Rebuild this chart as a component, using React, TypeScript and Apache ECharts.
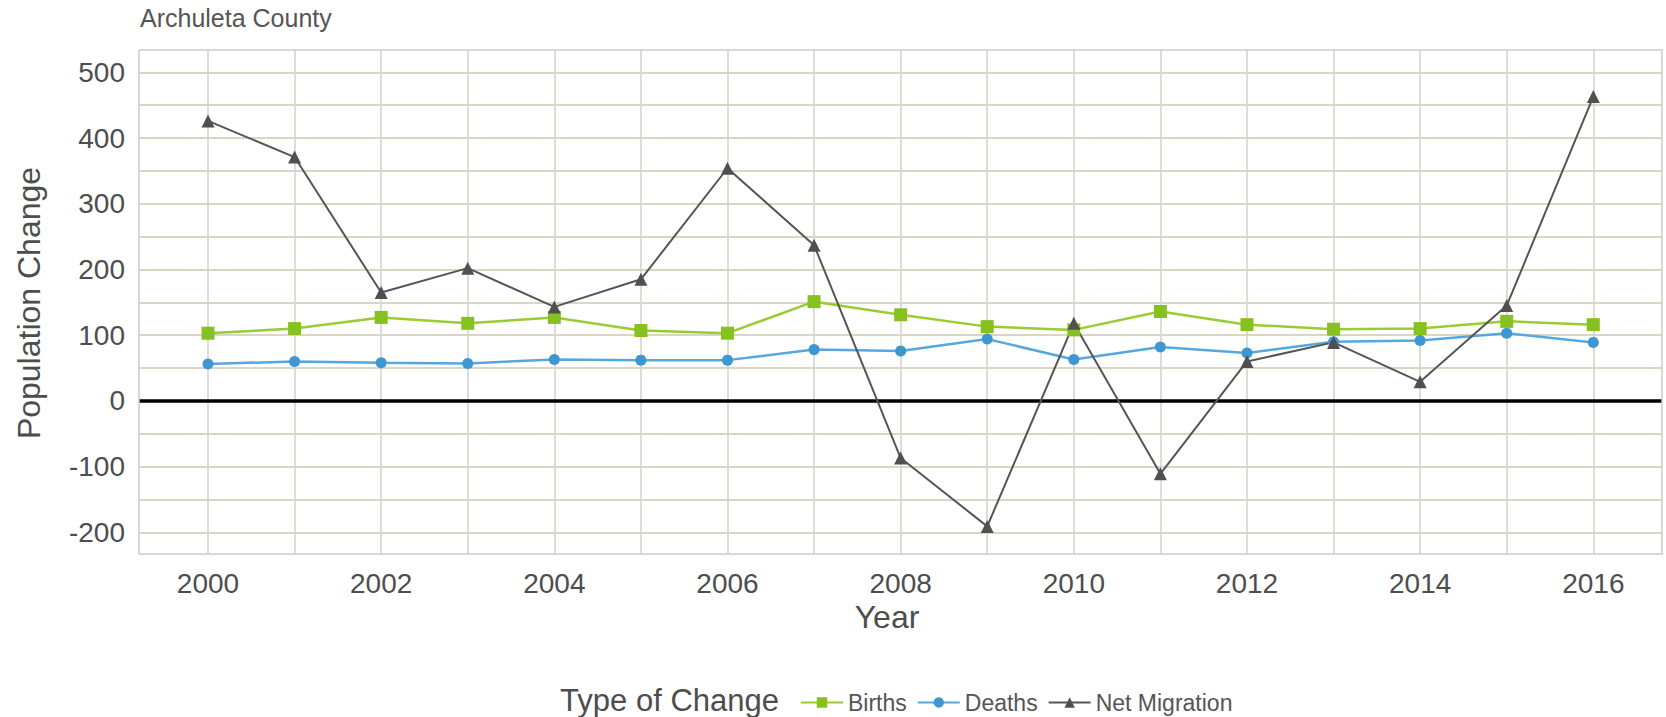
import React, { useEffect, useRef } from "react";
import * as echarts from "echarts";

const years = [2000, 2001, 2002, 2003, 2004, 2005, 2006, 2007, 2008, 2009, 2010, 2011, 2012, 2013, 2014, 2015, 2016];
const births = [103, 110, 127, 118, 127, 107, 103, 151, 131, 113, 108, 136, 116, 109, 110, 121, 116];
const deaths = [56, 60, 58, 57, 63, 62, 62, 78, 76, 94, 63, 82, 73, 90, 92, 103, 89];
const netMigration = [426, 371, 165, 202, 143, 185, 354, 237, -87, -191, 118, -111, 60, 89, 29, 145, 463];
const yTicks = [-200, -100, 0, 100, 200, 300, 400, 500];
const xTickLabels = [2000, 2002, 2004, 2006, 2008, 2010, 2012, 2014, 2016];

const FONT = "'Liberation Sans', Arial, Helvetica, sans-serif";

export default function App() {
  const ref = useRef<HTMLDivElement>(null);
  useEffect(() => {
    if (!ref.current) return;
    const chart = echarts.init(ref.current, undefined, { renderer: "svg" });

    // panel geometry
    const panelL = 139, panelR = 1662, panelT = 50, panelB = 554;
    const x2000 = 208, x2016 = 1593.3;
    const pxPerYear = (x2016 - x2000) / 16;
    const y500 = 72.3, yM200 = 532.3;
    const xMin = 2000 - (x2000 - panelL) / pxPerYear;
    const xMax = 2016 + (panelR - x2016) / pxPerYear;

    const toPairs = (arr: number[]) => arr.map((v, i) => [years[i], v]);

    const option: any = {
      animation: false,
      backgroundColor: "#ffffff",
      textStyle: { fontFamily: FONT },
      grid: [
        { left: panelL, top: y500, width: panelR - panelL, height: yM200 - y500, containLabel: false },
        { left: x2000, top: panelT, width: x2016 - x2000, height: panelB - panelT, containLabel: false },
      ],
      xAxis: [
        {
          gridIndex: 0, type: "value", min: xMin, max: xMax,
          axisLine: { show: false }, axisTick: { show: false }, axisLabel: { show: false }, splitLine: { show: false },
        },
        {
          gridIndex: 1, type: "value", min: 2000, max: 2016, interval: 1,
          axisLine: { show: false }, axisTick: { show: false },
          splitLine: { show: true, lineStyle: { color: "#d6d4cd", width: 1.6 } },
          axisLabel: {
            margin: 15, fontSize: 28, color: "#4d4d4d", fontFamily: FONT,
            formatter: (v: number) => (xTickLabels.indexOf(v) >= 0 ? String(v) : ""),
          },
        },
      ],
      yAxis: [
        {
          gridIndex: 0, type: "value", min: -200, max: 500, interval: 50,
          axisLine: { show: false }, axisTick: { show: false },
          splitLine: { show: true, lineStyle: { color: "#dad5c4", width: 2 } },
          axisLabel: {
            margin: 14, fontSize: 28, color: "#4d4d4d", fontFamily: FONT,
            formatter: (v: number) => (yTicks.indexOf(v) >= 0 ? String(v) : ""),
          },
        },
        {
          gridIndex: 1, type: "value", min: 0, max: 1,
          axisLine: { show: false }, axisTick: { show: false }, axisLabel: { show: false }, splitLine: { show: false },
        },
      ],
      legend: {
        left: 795, top: 686, itemGap: 10, itemWidth: 42, itemHeight: 13,
        textStyle: { fontSize: 23, color: "#555555", fontFamily: FONT },
        data: ["Births", "Deaths", "Net Migration"],
      },
      graphic: [
        {
          type: "rect", z: 100, silent: true,
          shape: { x: panelL, y: panelT, width: panelR - panelL, height: panelB - panelT },
          style: { fill: "none", stroke: "#cccccc", lineWidth: 1.5 },
        },
        {
          type: "text", left: 140, top: 5,
          style: { text: "Archuleta County", fontSize: 25, fill: "#555555", fontFamily: FONT },
        },
        {
          type: "text", x: 887, y: 617,
          style: { text: "Year", fontSize: 32, fill: "#4d4d4d", fontFamily: FONT, align: "center", verticalAlign: "middle" },
        },
        {
          type: "text", x: 29, y: 303, rotation: Math.PI / 2,
          style: { text: "Population Change", fontSize: 32, fill: "#4d4d4d", fontFamily: FONT, align: "center", verticalAlign: "middle" },
        },
        {
          type: "text", x: 779, y: 700,
          style: { text: "Type of Change", fontSize: 31, fill: "#4d4d4d", fontFamily: FONT, align: "right", verticalAlign: "middle" },
        },
      ],
      series: [
        {
          name: "Births", type: "line", xAxisIndex: 0, yAxisIndex: 0,
          data: toPairs(births), symbol: "rect", symbolSize: 13,
          lineStyle: { color: "#99cc33", width: 2.5 }, itemStyle: { color: "#86c11f" },
          z: 3,
          markLine: {
            silent: true, symbol: "none", label: { show: false },
            lineStyle: { color: "#000000", width: 3.5, type: "solid" },
            data: [{ yAxis: 0 }], z: 1,
          },
        },
        {
          name: "Deaths", type: "line", xAxisIndex: 0, yAxisIndex: 0,
          data: toPairs(deaths), symbol: "circle", symbolSize: 11,
          lineStyle: { color: "#56a7dd", width: 2.5 }, itemStyle: { color: "#3f97d2" },
          z: 3,
        },
        {
          name: "Net Migration", type: "line", xAxisIndex: 0, yAxisIndex: 0,
          data: toPairs(netMigration), symbol: "triangle", symbolSize: 13,
          lineStyle: { color: "#555555", width: 2 }, itemStyle: { color: "#505050" },
          z: 3,
        },
      ],
    };
    chart.setOption(option);
    return () => chart.dispose();
  }, []);
  return (
    <div
      ref={ref}
      style={{ position: "fixed", left: 0, top: 0, width: 1666, height: 717 }}
    />
  );
}
